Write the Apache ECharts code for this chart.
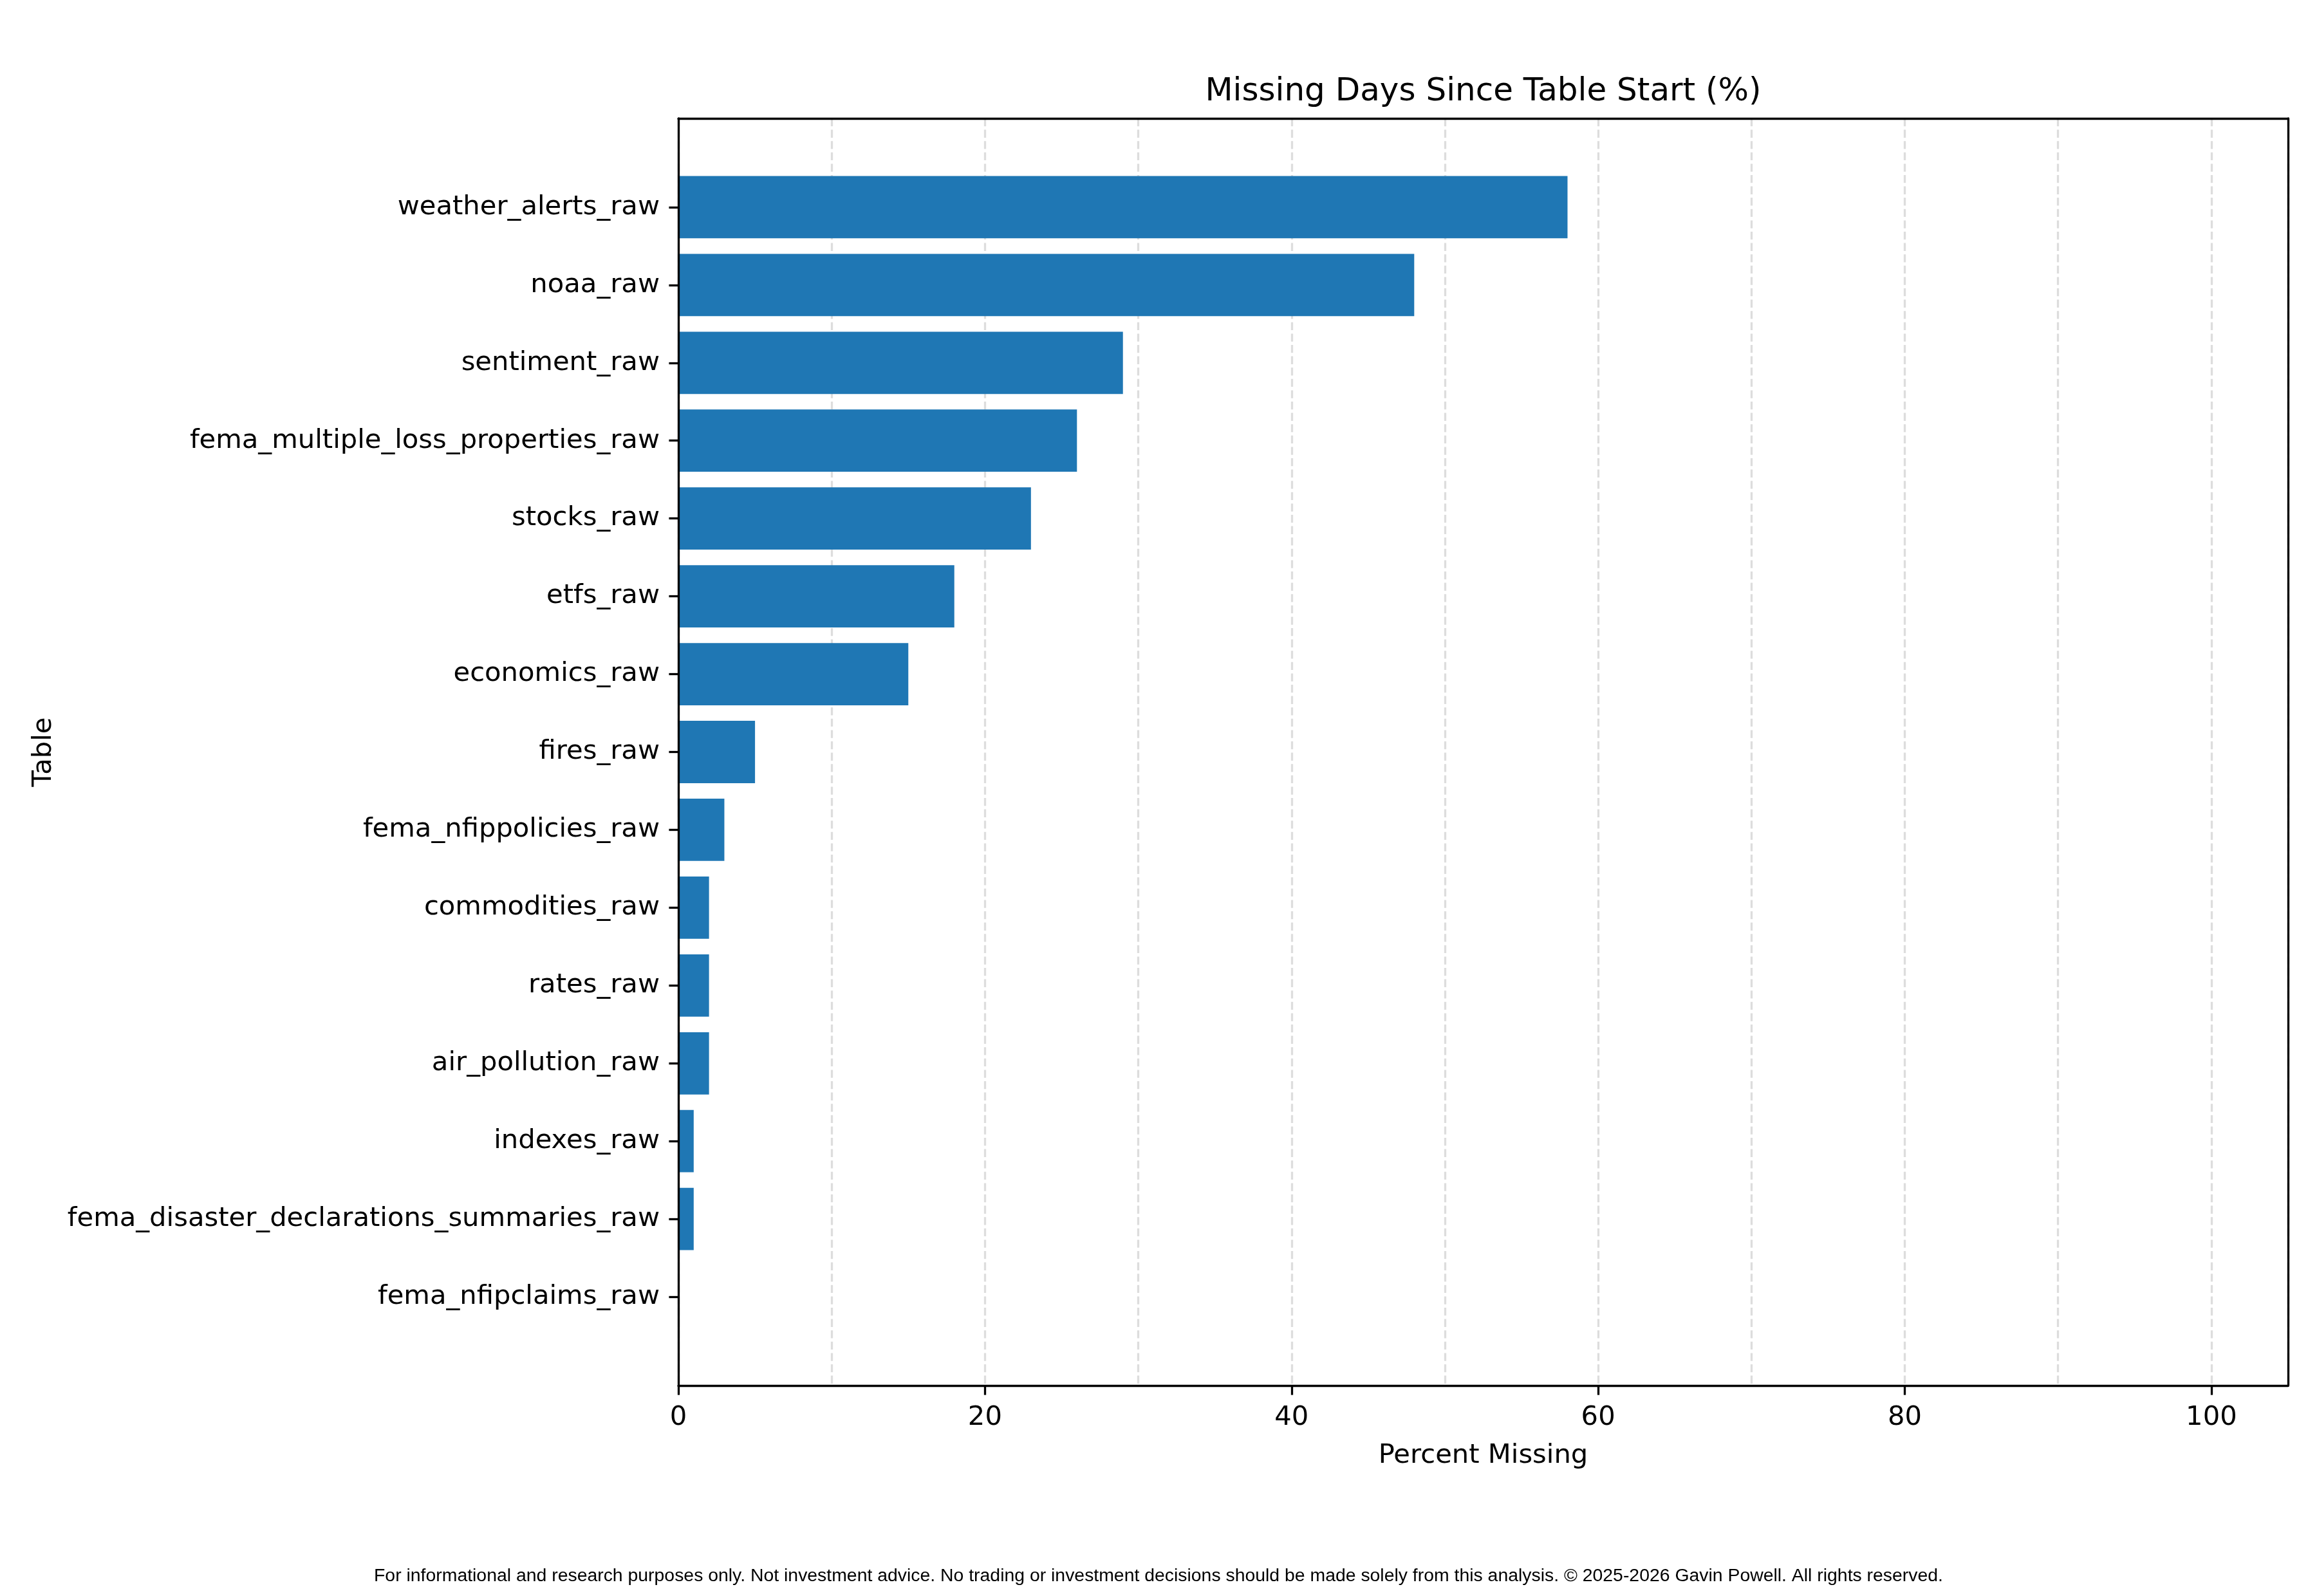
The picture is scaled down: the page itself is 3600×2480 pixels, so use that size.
<!DOCTYPE html>
<html>
<head>
<meta charset="utf-8">
<script src="https://cdn.jsdelivr.net/npm/echarts@6/dist/echarts.min.js"></script>
<style>
html, body { margin: 0; padding: 0; background: #ffffff; }
#chart { width: 3600px; height: 2480px; }
</style>
</head>
<body>
<div id="chart"></div>
<script>
const categories = [
  'weather_alerts_raw',
  'noaa_raw',
  'sentiment_raw',
  'fema_multiple_loss_properties_raw',
  'stocks_raw',
  'etfs_raw',
  'economics_raw',
  'fires_raw',
  'fema_nfippolicies_raw',
  'commodities_raw',
  'rates_raw',
  'air_pollution_raw',
  'indexes_raw',
  'fema_disaster_declarations_summaries_raw',
  'fema_nfipclaims_raw'
];
const percentMissing = [58, 48, 29, 26, 23, 18, 15, 5, 3, 2, 2, 2, 1, 1, 0];
const xTickValues = [0, 20, 40, 60, 80, 100];

const titleText = 'Missing Days Since Table Start (%)';
const xLabelText = 'Percent Missing';
const yLabelText = 'Table';
const footerText = 'For informational and research purposes only. Not investment advice. No trading or investment decisions should be made solely from this analysis. \u00A9 2025-2026 Gavin Powell. All rights reserved.';

const FONT = 'DejaVu Sans';
const PLOT_L = 1054, PLOT_T = 184, PLOT_W = 2501, PLOT_H = 1969;
const BAND = PLOT_H / 16.28;
const PAD = (1.14 - 0.5) * BAND;
const LW = 3.3;

const chart = echarts.init(document.getElementById('chart'), null, { renderer: 'canvas' });

const option = {
  backgroundColor: '#ffffff',
  animation: false,
  textStyle: { fontFamily: FONT, color: '#000' },
  grid: [
    { left: PLOT_L, top: PLOT_T + PAD, width: PLOT_W, height: 15 * BAND, containLabel: false },
    { left: PLOT_L, top: PLOT_T, width: PLOT_W, height: PLOT_H, containLabel: false }
  ],
  xAxis: [
    { gridIndex: 0, type: 'value', min: 0, max: 105, show: false },
    {
      gridIndex: 1, type: 'value', min: 0, max: 105, interval: 10, position: 'bottom',
      axisLine: { show: false },
      axisTick: { show: false }, axisLabel: { show: false },
      splitLine: { show: true, lineStyle: { color: '#dddddd', width: LW, type: [12.3, 5.3] } }
    },
    {
      gridIndex: 1, type: 'value', min: 0, max: 105, interval: 20, position: 'bottom', z: 10,
      axisLine: { show: true, onZero: false, lineStyle: { color: '#000', width: LW } },
      axisTick: { show: true, length: 14.6, customValues: xTickValues, lineStyle: { color: '#000', width: LW } },
      axisLabel: { show: true, customValues: xTickValues, margin: 29, fontSize: 41.7, fontFamily: FONT, color: '#000' },
      splitLine: { show: false },
      name: xLabelText, nameLocation: 'middle', nameGap: 88,
      nameTextStyle: { fontSize: 41.7, fontFamily: FONT, color: '#000' }
    },
    {
      gridIndex: 1, type: 'value', min: 0, max: 105, position: 'top', z: 10,
      axisLine: { show: true, onZero: false, lineStyle: { color: '#000', width: LW } },
      axisTick: { show: false }, axisLabel: { show: false }, splitLine: { show: false }
    }
  ],
  yAxis: [
    {
      gridIndex: 0, type: 'category', data: categories, inverse: true,
      axisLine: { show: false },
      axisTick: { show: true, alignWithLabel: true, length: 14.6, lineStyle: { color: '#000', width: LW } },
      axisLabel: { show: true, margin: 29, fontSize: 41.7, fontFamily: FONT, color: '#000', padding: [14, 0, 0, 0] },
      splitLine: { show: false }
    },
    {
      gridIndex: 1, type: 'value', min: 0, max: 1, position: 'left', z: 10,
      axisLine: { show: true, onZero: false, lineStyle: { color: '#000', width: LW } },
      axisTick: { show: false }, axisLabel: { show: false }, splitLine: { show: false },
      name: yLabelText, nameLocation: 'middle', nameGap: 965,
      nameTextStyle: { fontSize: 41.7, fontFamily: FONT, color: '#000' }
    },
    {
      gridIndex: 1, type: 'value', min: 0, max: 1, position: 'right', z: 10,
      axisLine: { show: true, onZero: false, lineStyle: { color: '#000', width: LW } },
      axisTick: { show: false }, axisLabel: { show: false }, splitLine: { show: false }
    }
  ],
  series: [
    {
      type: 'bar',
      xAxisIndex: 0,
      yAxisIndex: 0,
      data: percentMissing,
      barCategoryGap: '20%',
      itemStyle: { color: '#1f77b4' },
      silent: true
    }
  ],
  graphic: [
    {
      type: 'text', x: PLOT_L + PLOT_W / 2, y: 143, silent: true,
      style: { text: titleText, fontSize: 50, fontFamily: FONT, fill: '#000',
               align: 'center', verticalAlign: 'middle', textAlign: 'center', textVerticalAlign: 'middle' }
    },
    {
      type: 'text', x: 1800, y: 2449, silent: true,
      style: { text: footerText, fontSize: 28.4, fontFamily: 'Liberation Sans', fill: '#000',
               align: 'center', verticalAlign: 'middle', textAlign: 'center', textVerticalAlign: 'middle' }
    }
  ]
};

chart.setOption(option);
</script>
</body>
</html>
